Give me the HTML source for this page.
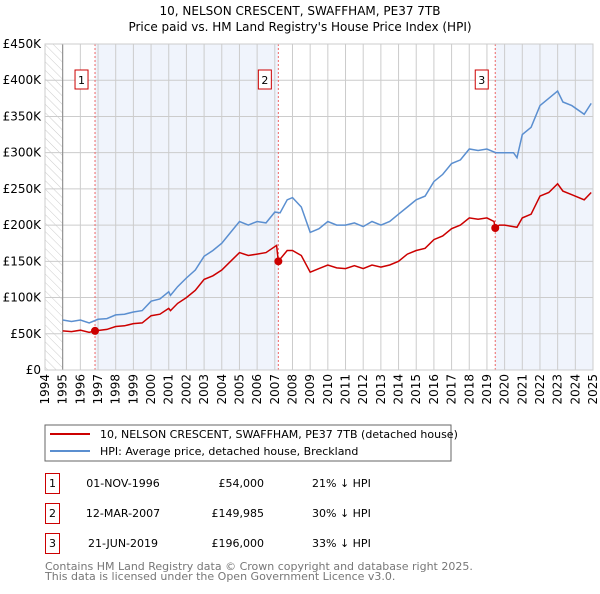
<!DOCTYPE html>
<html><head><meta charset="utf-8"><style>
body{margin:0;background:#fff;width:600px;height:590px;overflow:hidden;font-family:"DejaVu Sans","Liberation Sans",sans-serif;}
svg text{font-family:"DejaVu Sans","Liberation Sans",sans-serif;}
</style></head><body>
<svg id="c" width="600" height="590" viewBox="0 0 600 590">
<defs><pattern id="hatch" width="6" height="6" patternUnits="userSpaceOnUse" patternTransform="rotate(-45)"><line x1="0" y1="0" x2="0" y2="6" stroke="#ccc" stroke-width="1"/></pattern></defs>
<text x="300" y="15" text-anchor="middle" font-size="12">10, NELSON CRESCENT, SWAFFHAM, PE37 7TB</text>
<text x="300" y="31" text-anchor="middle" font-size="12">Price paid vs. HM Land Registry's House Price Index (HPI)</text>
<g id="plot"></g>
<rect x="45" y="425" width="406" height="36" fill="#fff" stroke="#666"/>
<line x1="50" y1="434" x2="90" y2="434" stroke="#cc0000" stroke-width="2"/>
<text x="100" y="438" font-size="11">10, NELSON CRESCENT, SWAFFHAM, PE37 7TB (detached house)</text>
<line x1="50" y1="451" x2="90" y2="451" stroke="#5b8fd0" stroke-width="2"/>
<text x="100" y="455" font-size="11">HPI: Average price, detached house, Breckland</text>
<g id="tbl" font-size="11"></g>
<text x="45" y="570" font-size="11" fill="#777">Contains HM Land Registry data © Crown copyright and database right 2025.</text>
<text x="45" y="580" font-size="11" fill="#777">This data is licensed under the Open Government Licence v3.0.</text>
</svg>
<script>
const yTicks=[0,50,100,150,200,250,300,350,400,450];
const yTickLabels=["£0","£50K","£100K","£150K","£200K","£250K","£300K","£350K","£400K","£450K"];
const years=[1994,1995,1996,1997,1998,1999,2000,2001,2002,2003,2004,2005,2006,2007,2008,2009,2010,2011,2012,2013,2014,2015,2016,2017,2018,2019,2020,2021,2022,2023,2024,2025];
const hpiT=[1995,1995.5,1996,1996.5,1997,1997.5,1998,1998.5,1999,1999.5,2000,2000.5,2001,2001.1,2001.5,2002,2002.5,2003,2003.5,2004,2004.5,2005,2005.5,2006,2006.5,2007,2007.3,2007.7,2008,2008.5,2009,2009.5,2010,2010.5,2011,2011.5,2012,2012.5,2013,2013.5,2014,2014.5,2015,2015.5,2016,2016.5,2017,2017.5,2018,2018.5,2019,2019.5,2020,2020.5,2020.7,2021,2021.5,2022,2022.5,2023,2023.3,2023.8,2024.5,2024.9];
const hpiV=[69,67,69,65,70,71,76,77,80,82,95,98,108,103,115,127,138,157,165,175,190,205,200,205,203,218,217,235,238,225,190,195,205,200,200,203,198,205,200,205,215,225,235,240,260,270,285,290,305,303,305,300,300,300,293,325,335,365,375,385,370,365,353,368];
const priceT=[1995,1995.5,1996,1996.5,1996.83,1997.5,1998,1998.5,1999,1999.5,2000,2000.5,2001,2001.1,2001.5,2002,2002.5,2003,2003.5,2004,2004.5,2005,2005.5,2006,2006.5,2007.1,2007.2,2007.7,2008,2008.5,2009,2009.5,2010,2010.5,2011,2011.5,2012,2012.5,2013,2013.5,2014,2014.5,2015,2015.5,2016,2016.5,2017,2017.5,2018,2018.5,2019,2019.4,2019.47,2019.7,2020,2020.7,2021,2021.5,2022,2022.5,2023,2023.3,2023.8,2024.5,2024.9];
const priceV=[54,53,55,52,54,56,60,61,64,65,75,77,85,82,92,100,110,125,130,138,150,162,158,160,162,172,150,165,165,158,135,140,145,141,140,144,140,145,142,145,150,160,165,168,180,185,195,200,210,208,210,205,196,200,200,197,210,215,240,245,257,247,242,235,245];
const saleT=[1996.83,2007.2,2019.47];
const saleV=[54,149.985,196];
const saleDates=["01-NOV-1996","12-MAR-2007","21-JUN-2019"];
const salePrices=["£54,000","£149,985","£196,000"];
const salePct=["21% ↓ HPI","30% ↓ HPI","33% ↓ HPI"];
const NS="http://www.w3.org/2000/svg";
const X0=45,X1=593,Y0=370,Y1=44;
const xs=t=>X0+(t-1994)/(2025-1994)*(X1-X0);
const ys=v=>Y0-v/450*(Y0-Y1);
const plot=document.getElementById('plot');
function mk(tag,a,p){const e=document.createElementNS(NS,tag);for(const k in a)e.setAttribute(k,a[k]);(p||plot).appendChild(e);return e;}
let e;
e=mk('rect',{x:X0,y:Y1,width:X1-X0,height:Y0-Y1,fill:'#fff'});


e=mk('rect',{x:xs(1994),y:Y1,width:xs(1995)-xs(1994),height:Y0-Y1,fill:'url(#hatch)'});


e=mk('rect',{x:xs(saleT[0]),y:Y1,width:xs(saleT[1])-xs(saleT[0]),height:Y0-Y1,fill:'#f0f4fc'});


e=mk('rect',{x:xs(saleT[2]),y:Y1,width:X1-xs(saleT[2]),height:Y0-Y1,fill:'#f0f4fc'});


yTicks.forEach((v,i)=>{
 e=mk('line',{x1:X0,x2:X1,y1:ys(v),y2:ys(v),stroke:'#ccc'});
 
 
 e=mk('text',{x:X0-4,y:ys(v)+4,'text-anchor':'end','font-size':12});
 e.textContent=yTickLabels[i];
 
 
});
years.forEach(y=>{
 e=mk('line',{x1:xs(y),x2:xs(y),y1:Y1,y2:Y0,stroke:'#ccc'});
 
 
 const tx=xs(y)+4;
 e=mk('text',{x:tx,y:374,'text-anchor':'end','font-size':12,transform:`rotate(-90 ${tx} 374)`});
 e.textContent=y;
 
 
});
e=mk('line',{x1:xs(1995),x2:xs(1995),y1:Y1,y2:Y0,stroke:'#888'});


saleT.forEach((t,i)=>{
 e=mk('line',{x1:xs(t),x2:xs(t),y1:Y1,y2:Y0,stroke:'#e66','stroke-dasharray':'2,2'});
 
 
 e=mk('rect',{x:xs(t)-20,y:70,width:13,height:19,fill:'#fff',stroke:'#c00'});
 
 
 e=mk('text',{x:xs(t)-13.5,y:84,'text-anchor':'middle','font-size':11});
 e.textContent=i+1;
 
 
});
function path(T,V){return T.map((t,i)=>(i?'L':'M')+xs(t).toFixed(1)+','+ys(V[i]).toFixed(1)).join('');}
e=mk('path',{d:path(hpiT,hpiV),fill:'none',stroke:'#5b8fd0','stroke-width':1.5});


e=mk('path',{d:path(priceT,priceV),fill:'none',stroke:'#cc0000','stroke-width':1.5});


saleT.forEach((t,i)=>{
 e=mk('circle',{cx:xs(t),cy:ys(saleV[i]),r:4,fill:'#cc0000'});
 
 
});
e=mk('rect',{x:X0,y:Y1,width:X1-X0,height:Y0-Y1,fill:'none',stroke:'#ccc'});


const tbl=document.getElementById('tbl');
saleT.forEach((t,i)=>{
 const cy=483+i*30;
 e=mk('rect',{x:45.5,y:cy-9.5,width:14,height:20,fill:'#fff',stroke:'#c00'},tbl);
 
 
 e=mk('text',{x:52.5,y:cy+4,'text-anchor':'middle'},tbl);
 e.textContent=i+1;
 
 
 e=mk('text',{x:123,y:cy+4,'text-anchor':'middle'},tbl);
 e.textContent=saleDates[i];
 
 
 e=mk('text',{x:264,y:cy+4,'text-anchor':'end'},tbl);
 e.textContent=salePrices[i];
 
 
 e=mk('text',{x:312,y:cy+4},tbl);
 e.textContent=salePct[i];
 
 
});
</script>
</body></html>
